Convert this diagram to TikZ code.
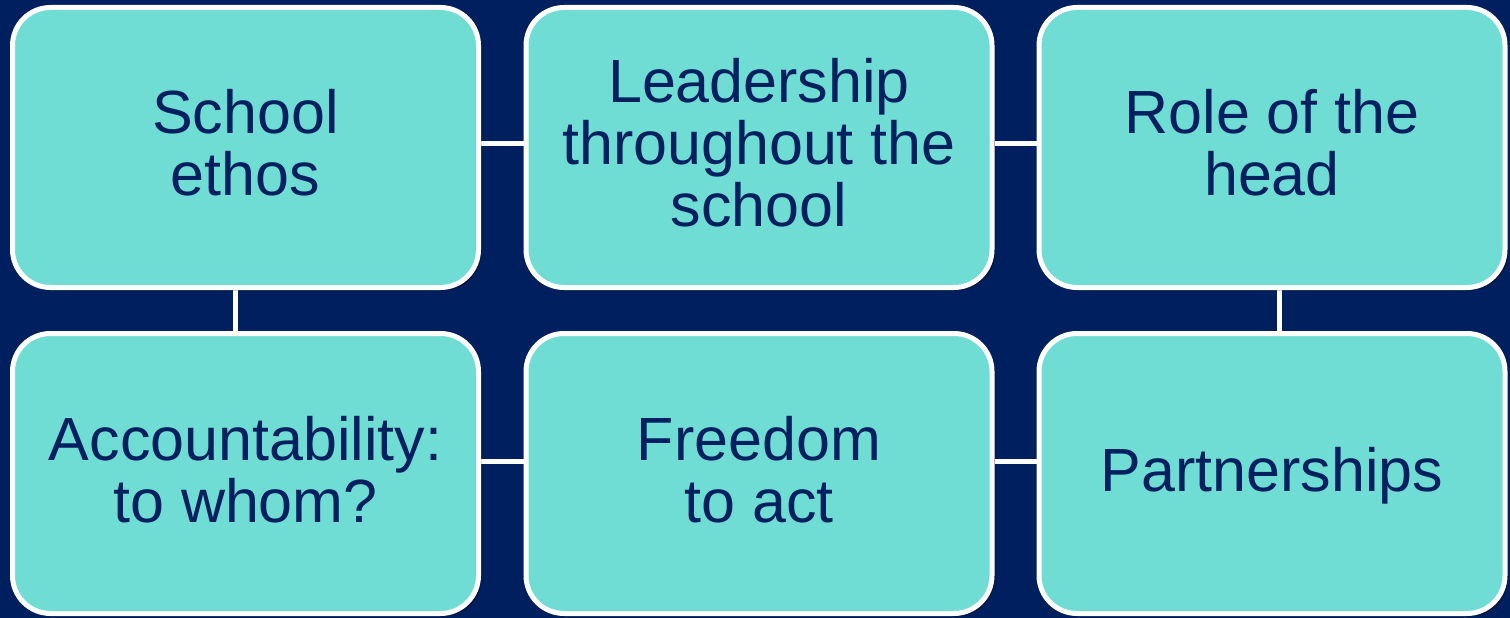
\documentclass[tikz,border=0pt]{standalone}
\usepackage{fontspec}
\setmainfont{Liberation Sans}
\usetikzlibrary{backgrounds,shadows}
\definecolor{bg}{HTML}{001F5F}
\definecolor{boxfill}{HTML}{70DDD5}
\definecolor{txt}{HTML}{002060}
\begin{document}
\begin{tikzpicture}[x=1pt,y=-1pt,
  card/.style={draw=white, line width=5pt, fill=boxfill, rounded corners=38pt,
    minimum width=466pt, minimum height=280pt, inner sep=0pt,
    drop shadow={shadow xshift=3pt, shadow yshift=-3pt, opacity=0.3, fill=black}},
  lbl/.style={text=txt, font=\fontsize{61}{62}\selectfont, align=center, inner sep=0pt},
  link/.style={draw=white, line width=5pt}]
\useasboundingbox (0,0) rectangle (1510,618);
\node[card] (b1) at (245.5,147.5) {};
\node[card] (b2) at (759,147.5) {};
\node[card] (b3) at (1272,147.5) {};
\node[card] (b4) at (245.5,473.5) {};
\node[card] (b5) at (759,473.5) {};
\node[card] (b6) at (1272,473.5) {};
\node[lbl, yshift=5pt] (t1) at (b1) {School\\ethos};
\node[lbl, yshift=5pt] (t2) at (b2) {Leadership\\throughout the\\school};
\node[lbl, yshift=5pt] (t3) at (b3) {Role of the\\head};
\node[lbl, yshift=4pt] (t4) at (b4) {Accountability:\\to whom?};
\node[lbl, yshift=4pt] (t5) at (b5) {Freedom\\to act};
\node[lbl, yshift=-2pt] (t6) at (b6) {Partnerships};
\begin{scope}[on background layer]
\fill[bg] (0,0) rectangle (1510,618);
\draw[link] ([yshift=4.5pt]b1.east) -- ([yshift=4.5pt]b2.west);
\draw[link] ([yshift=4.5pt]b2.east) -- ([yshift=4.5pt]b3.west);
\draw[link] ([xshift=-10pt]b1.south) -- ([xshift=-10pt]b4.north);
\draw[link] ([xshift=7pt]b3.south) -- ([xshift=7pt]b6.north);
\draw[link] ([yshift=12.5pt]b4.east) -- ([yshift=12.5pt]b5.west);
\draw[link] ([yshift=12.5pt]b5.east) -- ([yshift=12.5pt]b6.west);
\end{scope}
\end{tikzpicture}
\end{document}
